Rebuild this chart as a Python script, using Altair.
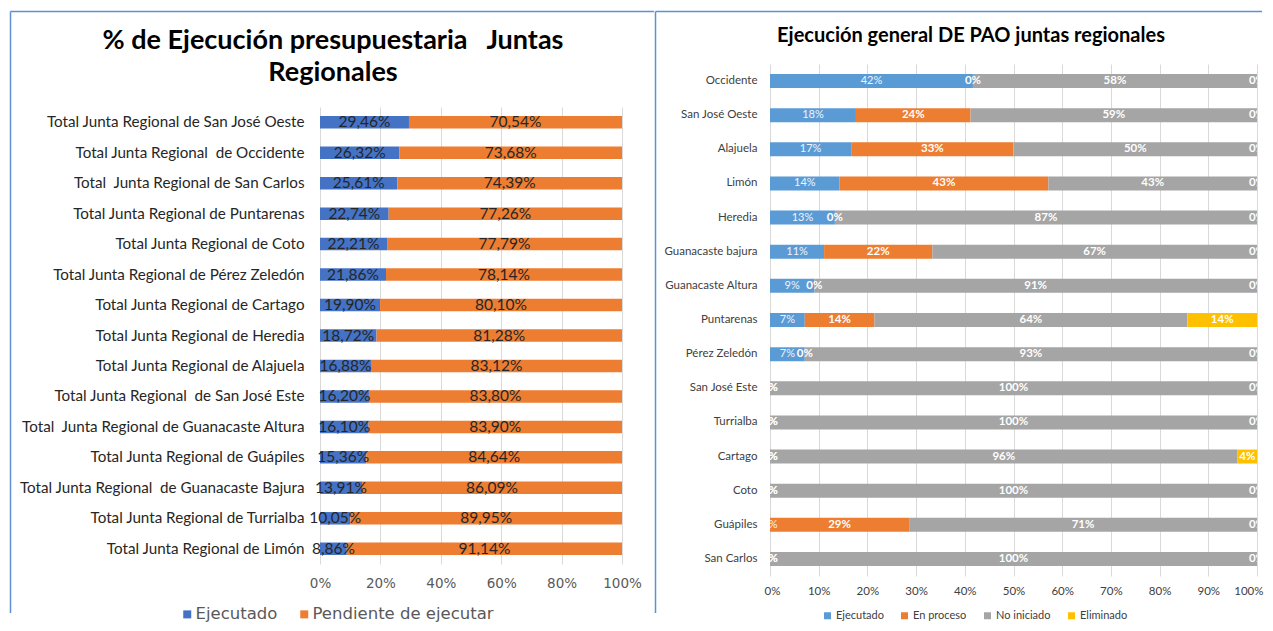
import altair as alt
import pandas as pd

# ---------------- data ----------------
left_regions = [
    "Total Junta Regional de San José Oeste",
    "Total Junta Regional\u00a0 de Occidente",
    "Total\u00a0 Junta Regional de San Carlos",
    "Total Junta Regional de Puntarenas",
    "Total Junta Regional de Coto",
    "Total Junta Regional de Pérez Zeledón",
    "Total Junta Regional de Cartago",
    "Total Junta Regional de Heredia",
    "Total Junta Regional de Alajuela",
    "Total Junta Regional\u00a0 de San José Este",
    "Total\u00a0 Junta Regional de Guanacaste Altura",
    "Total Junta Regional de Guápiles",
    "Total Junta Regional\u00a0 de Guanacaste Bajura",
    "Total Junta Regional de Turrialba",
    "Total Junta Regional de Limón",
]
left_ejecutado = [29.46, 26.32, 25.61, 22.74, 22.21, 21.86, 19.90, 18.72, 16.88, 16.20, 16.10, 15.36, 13.91, 10.05, 8.86]
left_pendiente = [70.54, 73.68, 74.39, 77.26, 77.79, 78.14, 80.10, 81.28, 83.12, 83.80, 83.90, 84.64, 86.09, 89.95, 91.14]
left_series = ["Ejecutado", "Pendiente de ejecutar"]
left_colors = ["#4472C4", "#ED7D31"]
left_ticks = [0, 20, 40, 60, 80, 100]
left_title = ["% de Ejecución presupuestaria \u00a0 Juntas", "Regionales"]

right_juntas = ["Occidente", "San José Oeste", "Alajuela", "Limón", "Heredia", "Guanacaste bajura",
                "Guanacaste Altura", "Puntarenas", "Pérez Zeledón", "San José Este", "Turrialba",
                "Cartago", "Coto", "Guápiles", "San Carlos"]
right_ejecutado = [41.67, 17.65, 16.67, 14.29, 13.33, 11.11, 9.09, 7.14, 7.14, 0, 0, 0, 0, 0, 0]
right_en_proceso = [0, 23.53, 33.33, 42.86, 0, 22.22, 0, 14.29, 0, 0, 0, 0, 0, 28.57, 0]
right_no_iniciado = [58.33, 58.82, 50.00, 42.85, 86.67, 66.67, 90.91, 64.28, 92.86, 100, 100, 96, 100, 71.43, 100]
right_eliminado = [0, 0, 0, 0, 0, 0, 0, 14.29, 0, 0, 0, 4, 0, 0, 0]
right_series = ["Ejecutado", "En proceso", "No iniciado", "Eliminado"]
right_colors = ["#5B9BD5", "#ED7D31", "#A5A5A5", "#FFC000"]
right_ticks = [0, 0.1, 0.2, 0.3, 0.4, 0.5, 0.6, 0.7, 0.8, 0.9, 1.0]
right_title = "Ejecución general DE PAO juntas regionales"

# ---------------- layout (page pixels) ----------------
L_LEFT, L_TOP, L_W, L_H = 320, 106, 302, 457
R_LEFT, R_TOP, R_W, R_H = 770, 63, 487, 512
BX0, BY0, BSEP, BX1, BY1 = 10.5, 10.5, 655.5, 1262, 612
BORDER = "#5E8FD8"

# ---------------- tables ----------------
rows = []
for i, r in enumerate(left_regions):
    for k, (s, vals) in enumerate(zip(left_series, [left_ejecutado, left_pendiente])):
        v = vals[i]
        rows.append({"region": r, "serie": s, "idx": k, "v": v,
                     "label": f"{v:.2f}".replace(".", ",") + "%"})
left_df = pd.DataFrame(rows)

rows = []
for i, j in enumerate(right_juntas):
    for k, (s, vals) in enumerate(zip(right_series, [right_ejecutado, right_en_proceso,
                                                      right_no_iniciado, right_eliminado])):
        rows.append({"junta": j, "estado": s, "k": k, "p": vals[i] / 100.0})
right_df = pd.DataFrame(rows)

dummy = pd.DataFrame({"d": [0]})


def vrule(x, y, y2):
    return alt.Chart(dummy).mark_rule(color=BORDER, strokeWidth=1.5).encode(
        x=alt.value(x), y=alt.value(y), y2=alt.value(y2))


def hrule(x, x2, y):
    return alt.Chart(dummy).mark_rule(color=BORDER, strokeWidth=1.5).encode(
        x=alt.value(x), x2=alt.value(x2), y=alt.value(y))


# ---------------- left chart ----------------
y_left = alt.Y("region:N", sort=left_regions, title=None,
               scale=alt.Scale(paddingInner=0.59, paddingOuter=0.295),
               axis=alt.Axis(labelFont="Lato", labelFontSize=15.2, labelColor="#262626",
                             ticks=False, tickSize=0, domain=False, labelPadding=16,
                             labelLimit=400))
x_left_scale = alt.Scale(domain=[0, 100], nice=False)

left_base = alt.Chart(left_df).transform_stack(
    stack="v", groupby=["region"], as_=["v0", "v1"],
    sort=[alt.SortField("idx", order="ascending")]
).transform_calculate(mid="(datum.v0 + datum.v1) / 2")

left_bars = left_base.mark_bar().encode(
    y=y_left,
    x=alt.X("v0:Q", title=None, scale=x_left_scale,
            axis=alt.Axis(values=left_ticks, labelExpr="datum.value + '%'", grid=True,
                          gridColor="#D9D9D9", domain=False, ticks=False, tickSize=0,
                          labelFont="DejaVu Sans", labelFontSize=13.5, labelColor="#595959",
                          labelPadding=12, labelFlush=False)),
    x2="v1:Q",
    color=alt.Color("serie:N", scale=alt.Scale(domain=left_series, range=left_colors),
                    legend=alt.Legend(orient="none", legendX=-141, legendY=542,
                                      direction="horizontal", title=None,
                                      symbolType="square", symbolSize=64,
                                      symbolStrokeWidth=0, labelFont="DejaVu Sans",
                                      labelFontSize=16.5, labelColor="#595959",
                                      labelLimit=300, columnPadding=18, labelOffset=0)),
)
left_text = left_base.mark_text(font="Lato", fontSize=15.5, color="#262626").encode(
    y=y_left, x=alt.X("mid:Q", scale=x_left_scale), text="label:N")

left_title_mark = alt.Chart(dummy).mark_text(
    text=left_title, font="Lato", fontSize=27, fontWeight="bold", color="#000000",
    lineHeight=32, baseline="middle", align="center"
).encode(x=alt.value(333 - L_LEFT), y=alt.value(40 - L_TOP))

left_chart = alt.layer(
    left_bars, left_text, left_title_mark,
    vrule(BX0 - L_LEFT, BY0 - L_TOP, BY1 - L_TOP),
    hrule(BX0 - L_LEFT, BSEP - 1.5 - L_LEFT, BY0 - L_TOP),
).properties(width=L_W, height=L_H)

spacer = alt.Chart(dummy).mark_point(opacity=0).encode(
    x=alt.value(0), y=alt.value(0)).properties(width=L_W, height=L_TOP - R_TOP)

left_col = alt.vconcat(spacer, left_chart, spacing=0, bounds="flush")

# ---------------- right chart ----------------
y_right = alt.Y("junta:N", sort=right_juntas, title=None,
                scale=alt.Scale(paddingInner=0.59, paddingOuter=0.295),
                axis=alt.Axis(labelFont="Lato", labelFontSize=11.5, labelColor="#404040",
                              ticks=False, tickSize=0, domain=False, labelPadding=13,
                              labelLimit=300))
x_right_scale = alt.Scale(domain=[0, 1], nice=False)

right_base = alt.Chart(right_df).transform_stack(
    stack="p", groupby=["junta"], as_=["p0", "p1"],
    sort=[alt.SortField("k", order="ascending")]
).transform_calculate(mid="(datum.p0 + datum.p1) / 2")

right_bars = right_base.mark_bar().encode(
    y=y_right,
    x=alt.X("p0:Q", title=None, scale=x_right_scale,
            axis=alt.Axis(values=right_ticks, format=".0%", grid=True, gridColor="#D9D9D9",
                          domain=False, ticks=False, tickSize=0, labelFont="Lato",
                          labelFontSize=11.5, labelColor="#404040", labelPadding=9,
                          labelFlush=True, labelFlushOffset=6)),
    x2="p1:Q",
    color=alt.Color("estado:N", scale=alt.Scale(domain=right_series, range=right_colors),
                    legend=alt.Legend(orient="none", legendX=52, legendY=546,
                                      direction="horizontal", title=None,
                                      symbolType="square", symbolSize=49,
                                      symbolStrokeWidth=0, labelFont="Lato",
                                      labelFontSize=11, labelColor="#404040",
                                      columnPadding=15, labelOffset=3)),
)
right_text_norm = right_base.transform_filter(
    alt.FieldOneOfPredicate(field="estado", oneOf=["Ejecutado"])
).mark_text(clip=True, font="Lato", fontSize=11, color="#FFFFFF", opacity=0.9).encode(
    y=y_right, x=alt.X("mid:Q", scale=x_right_scale), text=alt.Text("p:Q", format=".0%"))
right_text_bold = right_base.transform_filter(
    alt.FieldOneOfPredicate(field="estado", oneOf=["En proceso", "No iniciado", "Eliminado"])
).mark_text(clip=True, font="Lato", fontSize=11.5, fontWeight="bold", color="#FFFFFF").encode(
    y=y_right, x=alt.X("mid:Q", scale=x_right_scale), text=alt.Text("p:Q", format=".0%"))

right_title_mark = alt.Chart(dummy).mark_text(
    text=right_title, font="Lato", fontSize=20, fontWeight="bold", color="#000000",
    baseline="middle", align="center"
).encode(x=alt.value(971 - R_LEFT), y=alt.value(35 - R_TOP))

right_chart = alt.layer(
    right_bars, right_text_norm, right_text_bold, right_title_mark,
    vrule(BSEP - R_LEFT, BY0 - R_TOP, BY1 - R_TOP),
    hrule(BSEP - R_LEFT, BX1 - R_LEFT, BY0 - R_TOP),
).properties(width=R_W, height=R_H)

chart = alt.hconcat(left_col, right_chart, spacing=-2).resolve_scale(
    color="independent", x="independent", y="independent"
).resolve_legend(color="independent").properties(
    padding={"left": 1, "top": 2, "right": 0, "bottom": 0}
).configure_view(stroke="transparent")

chart.save("out.html", embed_options={"renderer": "svg", "actions": False})
